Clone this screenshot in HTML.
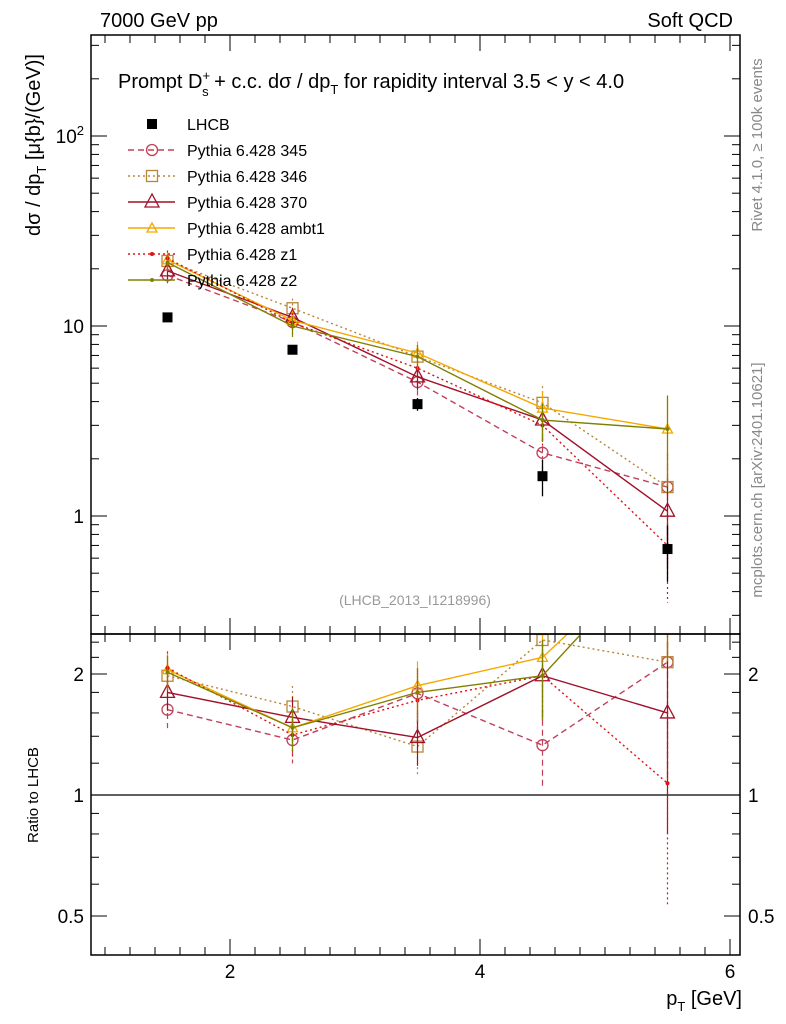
<!DOCTYPE html>
<html><head><meta charset="utf-8"><style>
body{margin:0;background:#fff;width:786px;height:1024px;overflow:hidden;font-family:"Liberation Sans",sans-serif}
svg{display:block}
</style></head><body>
<svg id="c" width="786" height="1024" xmlns="http://www.w3.org/2000/svg" font-family="Liberation Sans, sans-serif">
<defs>
<clipPath id="cm"><rect x="91" y="35" width="649" height="599"/></clipPath>
<clipPath id="cr"><rect x="91" y="634" width="649" height="321"/></clipPath>
</defs>
<text x="100" y="27" font-size="20">7000 GeV pp</text>
<text x="733" y="27" font-size="20" text-anchor="end">Soft QCD</text>
<text x="118" y="88" font-size="20">Prompt D<tspan font-size="13" dy="-8">+</tspan><tspan font-size="13" dx="-8" dy="16">s</tspan><tspan dy="-8"> + c.c.  dσ / dp</tspan><tspan font-size="13" dy="6">T</tspan><tspan dy="-6"> for rapidity interval 3.5 &lt; y &lt; 4.0</tspan></text>
<text transform="translate(40,145) rotate(-90)" font-size="20" text-anchor="middle">dσ / dp<tspan font-size="13" dy="6">T</tspan><tspan dy="-6"> [μ{b}/(GeV)]</tspan></text>
<text transform="translate(38,795) rotate(-90)" font-size="15" text-anchor="middle">Ratio to LHCB</text>
<text x="742" y="1005" font-size="20" text-anchor="end">p<tspan font-size="13" dy="6">T</tspan><tspan dy="-6"> [GeV]</tspan></text>
<text transform="translate(762,145) rotate(-90)" font-size="15" fill="#888" text-anchor="middle">Rivet 4.1.0, ≥ 100k events</text>
<text transform="translate(762,480) rotate(-90)" font-size="15" fill="#888" text-anchor="middle">mcplots.cern.ch [arXiv:2401.10621]</text>
<text x="415" y="605" font-size="14" fill="#999" text-anchor="middle">(LHCB_2013_I1218996)</text>
<g id="axes"></g>
<g id="main" clip-path="url(#cm)"></g>
<g id="ratio" clip-path="url(#cr)"></g>
<g id="legend"></g>
<rect x="91" y="35" width="649" height="599" fill="none" stroke="#000" stroke-width="1.5"/>
<rect x="91" y="634" width="649" height="321" fill="none" stroke="#000" stroke-width="1.5"/>
</svg>
<script>
const xs=[1.5,2.5,3.5,4.5,5.5];
const dataVals=[11.1,7.5,3.88,1.62,0.67];
const dataErr=[0.5,0.4,0.3,0.35,0.22];
const names=["Pythia 6.428 345","Pythia 6.428 346","Pythia 6.428 370","Pythia 6.428 ambt1","Pythia 6.428 z1","Pythia 6.428 z2"];
const v345=[18.5,10.5,5.07,2.15,1.42];
const v346=[22,12.4,6.9,3.94,1.42];
const v370=[19.5,11.1,5.4,3.2,1.06];
const vambt1=[22.3,10.7,7.2,3.7,2.87];
const vz1=[22.7,10.4,6.0,3.0,0.70];
const vz2=[21.6,10,6.9,3.2,2.87];
const r345=[1.63,1.37,1.79,1.33,2.14];
const r346=[1.98,1.66,1.32,2.43,2.14];
const r370=[1.8,1.56,1.39,1.98,1.6];
const rambt1=[2.05,1.47,1.87,2.2,4.3];
const rz1=[2.07,1.41,1.72,1.98,1.07];
const rz2=[2.02,1.47,1.8,1.98,4.3];
const relErr=[0.2,0.25,0.3,0.45,1.0];
const NS="http://www.w3.org/2000/svg";
const X=v=>230+(v-2)*125;
const Y=v=>516-Math.log10(v)*190;
const R=v=>795-Math.log10(v)*402;
function mk(p,t,a){const e=document.createElementNS(NS,t);for(const k in a)e.setAttribute(k,a[k]);p.appendChild(e);return e;}
const ax=document.getElementById('axes'),gm=document.getElementById('main'),gr=document.getElementById('ratio'),lg=document.getElementById('legend');
for(let v=1;v<=6.01;v+=0.2){const x=X(v);if(x<91||x>740)continue;const maj=Math.abs(v-Math.round(v))<1e-6&&Math.round(v)%2==0;const L=maj?16:8;
const t1=mk(ax,'line',{x1:x,x2:x,y1:634,y2:634-L,stroke:'#000'});
const t2=mk(ax,'line',{x1:x,x2:x,y1:955,y2:955-L,stroke:'#000'});
const t3=mk(ax,'line',{x1:x,x2:x,y1:35,y2:35+L,stroke:'#000'});
const t4=mk(ax,'line',{x1:x,x2:x,y1:634,y2:634+L,stroke:'#000'});
if(maj){const t=mk(ax,'text',{x:x,y:978,'font-size':19,'text-anchor':'middle'});t.textContent=Math.round(v);}}
for(let d=-1;d<=2;d++)for(let m=1;m<=9;m++){const v=m*Math.pow(10,d);const y=Y(v);if(y<35||y>634)continue;const L=m==1?16:8;
for(const [x0,s] of [[91,1],[740,-1]]){const t=mk(ax,'line',{x1:x0,x2:x0+s*L,y1:y,y2:y,stroke:'#000'});}
if(m==1&&d>=0){const t=mk(ax,'text',{x:84,y:y+7,'font-size':19,'text-anchor':'end'});t.textContent=d==0?'1':d==1?'10':'';if(d==2){t.innerHTML='10<tspan font-size="13" dy="-8">2</tspan>';}}}
const rt=[0.4,0.5,0.6,0.7,0.8,0.9,1,1.2,1.4,1.6,1.8,2,2.2,2.4];
rt.forEach(v=>{const y=R(v);if(y<634||y>955)return;const maj=(v==0.5||v==1||v==2);const L=maj?16:8;
for(const [x0,s] of [[91,1],[740,-1]]){const t=mk(ax,'line',{x1:x0,x2:x0+s*L,y1:y,y2:y,stroke:'#000'});}
if(maj){for(const [x,a] of [[84,'end'],[748,'start']]){const t=mk(ax,'text',{x:x,y:y+7,'font-size':19,'text-anchor':a});t.textContent=v;}}});
const ref=mk(gr,'line',{x1:91,x2:740,y1:R(1),y2:R(1),stroke:'#000','stroke-width':1.2});

const series=[
{n:names[0],v:v345,r:r345,c:'#c0405a',d:'6,4',m:'circle'},
{n:names[1],v:v346,r:r346,c:'#b8863b',d:'2,3',m:'square'},
{n:names[2],v:v370,r:r370,c:'#a0102a',d:'',m:'tri'},
{n:names[3],v:vambt1,r:rambt1,c:'#f5a800',d:'',m:'tris'},
{n:names[4],v:vz1,r:rz1,c:'#e01010',d:'2,3',m:'dot'},
{n:names[5],v:vz2,r:rz2,c:'#808000',d:'',m:'dot'}];
function marker(g,m,x,y,c){let e;
if(m=='circle')e=mk(g,'circle',{cx:x,cy:y,r:5.5,fill:'none',stroke:c,'stroke-width':1.3});
else if(m=='square')e=mk(g,'rect',{x:x-5.5,y:y-5.5,width:11,height:11,fill:'none',stroke:c,'stroke-width':1.3});
else if(m=='tri')e=mk(g,'polygon',{points:`${x},${y-8} ${x-7},${y+5} ${x+7},${y+5}`,fill:'none',stroke:c,'stroke-width':1.3});
else if(m=='tris')e=mk(g,'polygon',{points:`${x},${y-5} ${x-5},${y+4} ${x+5},${y+4}`,fill:'none',stroke:c,'stroke-width':1.3});
else e=mk(g,'circle',{cx:x,cy:y,r:2,fill:c});
return e;}
series.forEach((s,si)=>{
for(const [g,vals,fy,kind] of [[gm,s.v,Y,'main'],[gr,s.r,R,'ratio']]){
const pl=mk(g,'polyline',{points:xs.map((x,i)=>X(x)+','+fy(vals[i])).join(' '),fill:'none',stroke:s.c,'stroke-width':1.4,'stroke-dasharray':s.d});

xs.forEach((x,i)=>{const e=relErr[i]*vals[i]*0.5;
const eb=mk(g,'line',{x1:X(x),x2:X(x),y1:fy(vals[i]+e),y2:fy(Math.max(vals[i]-e,0.05)),stroke:s.c,'stroke-width':1.2,'stroke-dasharray':s.d});

const mm=marker(g,s.m,X(x),fy(vals[i]),s.c);});}
const ly=150+si*26;
const ll=mk(lg,'line',{x1:128,x2:175,y1:ly,y2:ly,stroke:s.c,'stroke-width':1.4,'stroke-dasharray':s.d});

const lm=marker(lg,s.m,152,ly,s.c);
const lt=mk(lg,'text',{x:187,y:ly+6,'font-size':16});lt.textContent=s.n;});
xs.forEach((x,i)=>{
const eb=mk(gm,'line',{x1:X(x),x2:X(x),y1:Y(dataVals[i]+dataErr[i]),y2:Y(dataVals[i]-dataErr[i]),stroke:'#000','stroke-width':1.3});

const r=mk(gm,'rect',{x:X(x)-5,y:Y(dataVals[i])-5,width:10,height:10,fill:'#000'});
});
const lr=mk(lg,'rect',{x:147,y:119,width:10,height:10,fill:'#000'});
const lt=mk(lg,'text',{x:187,y:130,'font-size':16});lt.textContent='LHCB';
</script>
</body></html>
